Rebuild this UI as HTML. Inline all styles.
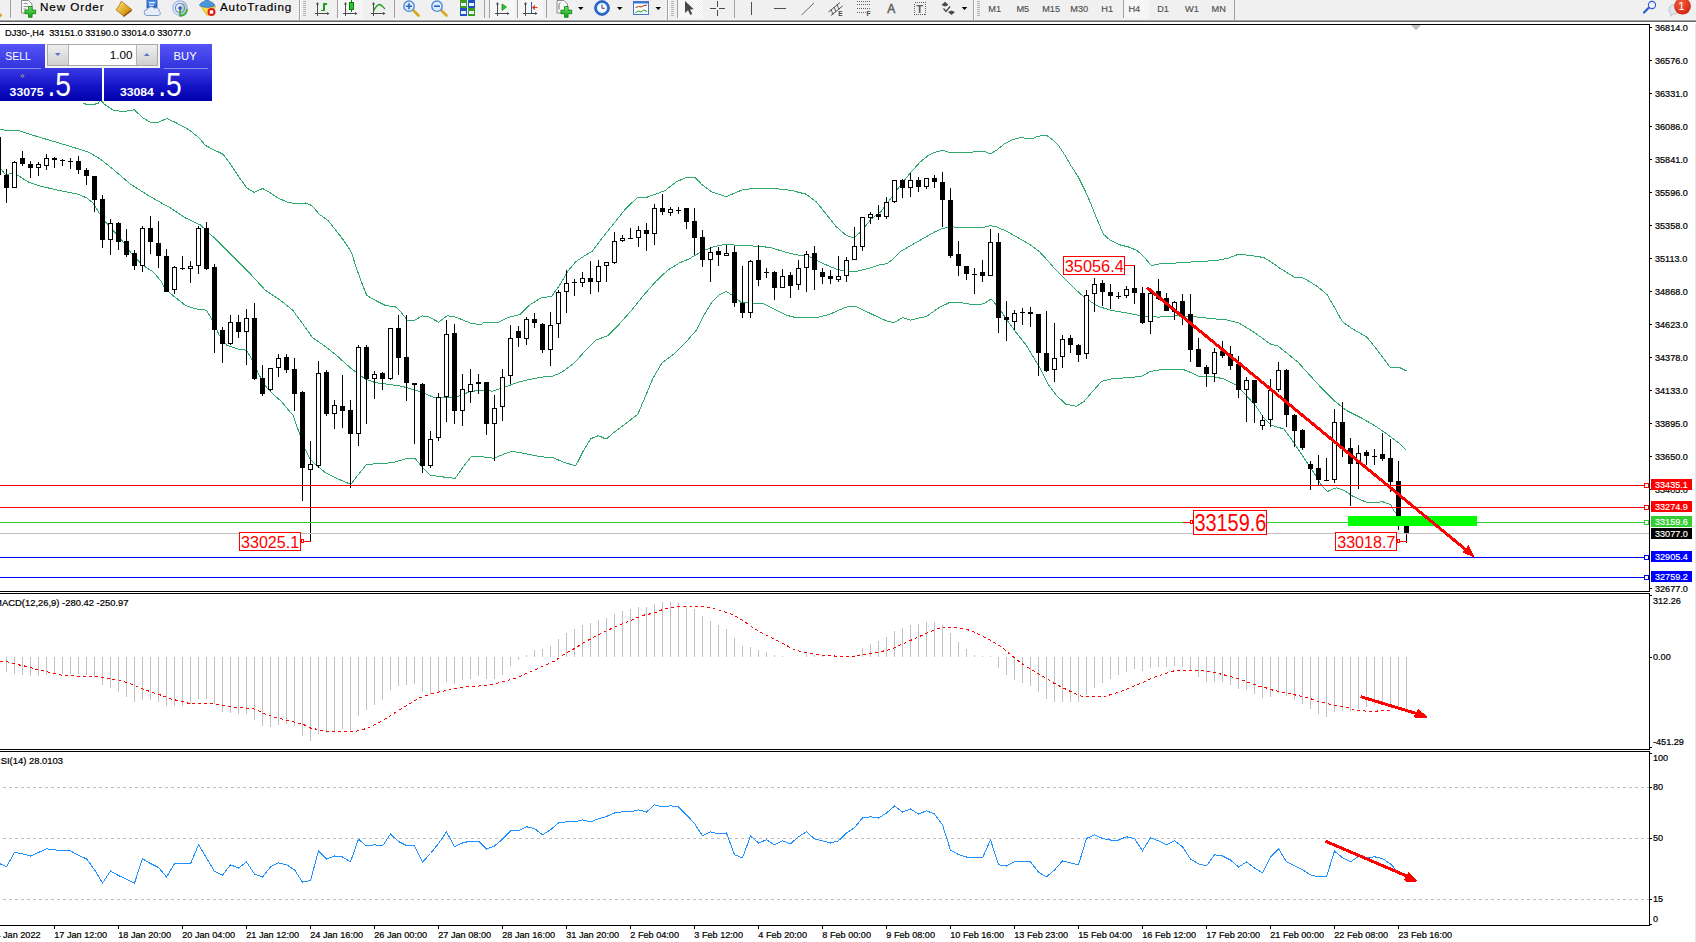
<!DOCTYPE html>
<html lang="en"><head><meta charset="utf-8"><title>DJ30-,H4</title>
<style>
html,body{margin:0;padding:0;background:#fff;}
body{width:1696px;height:942px;overflow:hidden;position:relative;font-family:"Liberation Sans", sans-serif;}
svg{position:absolute;left:0;top:0;display:block}
text{font-family:"Liberation Sans", sans-serif;}
.ax{font-size:9.1px;fill:#000;stroke:#000;stroke-width:.22px}
.tb{font-size:11.7px;fill:#000;stroke:#000;stroke-width:.2px}
.tf{font-size:9.2px;fill:#505050;stroke:#505050;stroke-width:.15px}
</style></head><body>
<svg width="1696" height="942" viewBox="0 0 1696 942">
<rect x="0" y="0" width="1696" height="942" fill="#fff"/>
<g shape-rendering="crispEdges">
<rect x="0" y="24" width="1650" height="1" fill="#000"/>
<rect x="1649" y="24" width="1" height="568" fill="#000"/>
<rect x="0" y="591" width="1650" height="1" fill="#000"/>
<rect x="0" y="593" width="1650" height="1" fill="#000"/>
<rect x="1649" y="593" width="1" height="157" fill="#000"/>
<rect x="0" y="749" width="1650" height="1" fill="#000"/>
<rect x="0" y="751" width="1650" height="1" fill="#000"/>
<rect x="1649" y="751" width="1" height="175" fill="#000"/>
<rect x="0" y="925" width="1650" height="1" fill="#000"/>
<rect x="1695" y="21" width="1" height="921" fill="#e6e6e6"/>
</g>
<polygon points="1411,25 1421,25 1416,30.5" fill="#c0c0c0"/>
<g stroke-linejoin="round">
<polyline points="83.0,103.5 90.5,105.0 98.0,103.5 101.0,100.0 104.2,104.2 113.0,110.0 123.0,111.8 134.2,109.8 143.0,118.0 151.8,123.0 158.0,122.5 166.8,118.5 175.5,122.5 188.0,129.2 198.0,136.8 205.5,145.5 214.2,150.0 223.0,154.2 230.5,164.2 238.0,175.5 246.8,188.0 254.2,192.5 262.5,188.5 270.5,193.0 278.0,198.0 288.0,202.5 295.5,203.5 305.5,203.0 311.8,205.5 319.2,214.2 328.0,220.5 338.0,233.0 345.5,243.0 351.8,253.0 355.5,265.5 361.8,283.0 366.8,295.5 375.5,300.5 385.5,305.5 395.5,306.8 400.5,311.7 406.2,318.7 407.2,320.0 415.1,320.0 422.2,315.9 428.5,316.8 438.7,322.2 447.0,315.9 451.5,316.2 455.9,317.1 469.9,322.9 476.3,324.1 482.0,324.1 483.3,322.9 498.7,322.1 507.7,317.6 519.8,314.6 528.9,305.5 541.0,297.9 551.6,296.4 559.2,285.8 568.2,270.7 575.8,261.6 584.9,255.6 592.4,251.0 601.5,238.9 613.6,223.8 625.7,208.7 637.8,197.2 646.9,197.2 656.0,194.1 665.1,190.5 676.5,181.7 686.5,177.5 695.2,177.5 701.4,184.2 711.4,191.7 726.4,196.7 733.9,193.4 743.8,189.2 758.8,188.7 776.3,188.7 791.2,190.4 806.2,194.2 816.2,201.7 826.2,214.1 836.1,226.6 846.1,235.3 853.6,237.8 861.1,231.6 871.1,219.1 880.5,212.0 888.5,201.7 896.4,190.5 904.4,180.2 912.3,170.7 920.3,161.9 928.3,155.5 934.6,152.3 942.6,150.4 950.6,152.8 963.3,152.3 976.0,151.9 985.6,152.0 990.4,153.9 996.7,150.0 1004.7,143.6 1012.6,139.6 1020.6,137.7 1027.0,138.3 1031.8,138.8 1038.1,136.1 1046.9,135.6 1052.5,139.6 1058.8,146.0 1065.2,155.5 1071.6,166.7 1077.9,176.2 1084.3,189.0 1090.7,203.3 1097.0,219.2 1103.4,234.3 1109.8,239.9 1119.3,244.7 1128.9,247.1 1136.8,250.3 1143.8,256.7 1151.3,265.5 1161.3,263.5 1176.3,263.0 1196.2,261.7 1216.2,260.5 1228.7,258.0 1238.6,254.2 1251.1,255.5 1263.6,257.5 1270.5,261.5 1280.2,268.4 1295.3,277.8 1302.9,277.8 1310.5,282.2 1318.1,287.1 1327.1,294.7 1334.7,307.8 1342.3,321.6 1351.9,328.5 1360.2,333.3 1367.1,337.4 1375.4,347.8 1383.7,358.8 1390.6,367.8 1400.2,367.8 1406.4,371.0" fill="none" stroke="#2fa86c" stroke-width="1" shape-rendering="crispEdges" />
<polyline points="0.5,129.2 8.0,131.0 18.0,130.5 38.0,136.8 63.0,144.2 88.0,151.8 100.5,159.2 113.0,169.2 130.5,184.2 150.5,196.8 170.5,208.0 185.5,218.0 200.5,225.0 213.0,236.7 225.5,249.2 237.9,261.6 250.5,274.1 265.4,290.3 280.3,300.3 292.8,310.3 302.8,324.0 312.7,337.7 325.2,346.4 337.7,356.4 350.2,367.7 360.1,375.1 365.1,378.9 375.1,382.6 390.1,384.6 402.5,386.4 412.5,389.4 420.2,391.6 435.1,397.9 455.1,397.4 470.1,391.6 480.5,390.2 492.6,391.1 504.7,387.2 516.8,382.6 528.9,379.6 541.0,377.2 553.1,376.0 562.2,372.0 574.3,363.0 586.4,349.4 595.5,340.3 607.6,335.7 619.7,323.6 631.8,310.0 643.9,294.9 656.0,281.3 668.1,269.8 680.2,262.5 689.0,259.0 701.4,251.6 713.9,246.6 726.4,244.1 741.4,245.8 758.8,246.1 771.3,247.8 783.8,251.6 796.2,254.8 808.7,256.5 821.2,262.8 836.1,269.0 846.1,271.5 856.1,271.5 871.1,267.8 880.5,264.6 886.9,263.8 893.2,259.0 901.2,251.1 912.3,244.7 923.5,238.3 934.6,231.9 942.6,228.4 952.1,226.9 963.3,227.5 976.0,228.0 984.0,227.2 990.4,225.6 996.7,226.9 1007.9,231.9 1019.0,238.3 1030.2,244.7 1039.7,251.9 1047.7,260.6 1056.1,270.3 1068.6,282.7 1076.5,290.4 1086.5,299.1 1098.9,306.6 1111.4,310.4 1126.4,312.9 1141.4,315.9 1158.8,317.1 1176.3,315.9 1193.7,316.6 1211.2,318.6 1226.2,319.8 1238.6,322.8 1251.1,330.3 1263.6,339.0 1270.5,344.1 1277.4,345.7 1287.1,353.3 1298.1,362.3 1308.9,374.2 1321.4,387.9 1333.9,400.4 1346.3,410.4 1361.3,417.9 1376.3,426.6 1388.7,435.3 1398.7,442.8 1406.2,450.3" fill="none" stroke="#2fa86c" stroke-width="1" shape-rendering="crispEdges" />
<polyline points="0.5,168.0 5.5,175.0 11.8,173.0 18.0,175.5 28.0,181.8 38.0,185.5 50.5,188.5 65.5,191.8 78.0,194.2 86.8,198.0 93.0,203.0 99.2,213.0 105.5,221.8 115.5,233.0 123.0,241.8 133.0,255.5 143.0,265.5 153.0,271.8 160.5,280.5 165.5,289.2 173.0,295.5 185.5,305.5 195.5,308.8 206.7,310.3 213.0,321.5 219.2,335.2 226.7,345.2 237.9,349.0 246.6,350.2 252.9,361.4 259.1,375.1 266.6,387.6 275.3,396.3 280.5,400.5 293.0,415.3 300.5,436.5 305.5,450.3 310.9,460.2 317.9,466.5 325.5,472.7 337.9,478.9 350.8,484.4 357.8,475.2 366.5,464.5 380.3,463.5 392.7,462.7 405.2,459.0 415.2,458.5 422.7,467.7 430.2,475.2 442.6,476.9 455.1,478.4 462.6,467.7 471.3,456.5 480.0,456.5 494.1,458.3 504.7,453.7 512.3,451.3 525.9,453.7 541.0,456.8 553.1,457.7 565.2,462.8 575.8,465.8 583.4,450.7 590.9,438.6 598.5,435.6 606.1,439.2 613.6,432.6 625.7,423.5 637.8,414.4 645.4,396.3 653.0,378.1 662.0,363.0 674.1,353.9 686.5,341.4 696.5,330.1 703.9,315.2 711.4,302.7 718.9,295.2 726.4,291.5 733.9,296.5 741.4,302.7 751.3,303.2 763.8,303.9 776.3,310.2 786.3,315.2 796.2,317.7 816.2,317.7 828.7,314.7 838.6,310.2 848.6,306.4 856.1,306.4 866.1,311.4 876.5,316.4 886.5,320.9 894.0,322.6 902.7,317.6 910.2,320.1 926.4,316.4 938.9,307.7 950.1,302.2 961.3,302.7 973.8,304.7 983.8,303.9 991.2,298.9 998.7,307.7 1006.2,318.9 1016.2,332.6 1026.2,345.1 1033.7,357.6 1041.1,370.0 1048.6,385.0 1056.1,395.0 1065.5,404.0 1076.5,406.4 1084.0,401.4 1091.5,392.7 1101.4,381.5 1111.4,379.0 1126.4,377.7 1141.4,376.5 1150.1,371.5 1161.3,369.7 1183.8,369.7 1191.2,372.7 1198.7,376.5 1211.2,376.0 1223.7,379.0 1236.1,385.2 1246.1,395.2 1256.1,406.4 1263.6,417.6 1271.1,425.1 1284.0,429.1 1291.5,439.1 1298.9,450.3 1306.4,461.5 1313.9,472.7 1321.4,485.2 1327.6,491.4 1336.4,487.7 1343.8,490.2 1352.5,496.0 1365.6,502.0 1372.6,503.0 1382.6,501.7 1390.7,504.5 1393.7,510.5 1396.7,514.0" fill="none" stroke="#2fa86c" stroke-width="1" shape-rendering="crispEdges" />
</g>
<g shape-rendering="crispEdges">
<path d="M6,169h1v34h-1zM14,161h1v27h-1zM22,151h1v15h-1zM30,161h1v17h-1zM38,162h1v14h-1zM46,154h1v16h-1zM54,157h1v11h-1zM62,159h1v7h-1zM70,158h1v11h-1zM78,156h1v18h-1zM86,168h1v17h-1zM94,176h1v36h-1zM102,195h1v53h-1zM110,219h1v36h-1zM118,222h1v28h-1zM126,229h1v28h-1zM134,250h1v20h-1zM142,226h1v46h-1zM150,216h1v38h-1zM158,221h1v47h-1zM166,249h1v43h-1zM174,266h1v28h-1zM182,256h1v14h-1zM190,261h1v22h-1zM198,226h1v48h-1zM206,222h1v48h-1zM214,264h1v89h-1zM222,327h1v36h-1zM230,315h1v30h-1zM238,315h1v23h-1zM246,309h1v56h-1zM254,303h1v77h-1zM262,365h1v31h-1zM270,368h1v23h-1zM278,354h1v23h-1zM286,354h1v19h-1zM294,358h1v53h-1zM302,391h1v110h-1zM310,441h1v101h-1zM318,361h1v107h-1zM326,370h1v46h-1zM334,400h1v29h-1zM342,375h1v53h-1zM350,400h1v88h-1zM358,345h1v101h-1zM366,345h1v79h-1zM374,371h1v28h-1zM382,372h1v18h-1zM390,328h1v52h-1zM398,315h1v60h-1zM406,315h1v86h-1zM414,383h1v61h-1zM422,383h1v90h-1zM430,431h1v37h-1zM438,393h1v48h-1zM446,320h1v102h-1zM454,324h1v100h-1zM462,374h1v52h-1zM470,369h1v34h-1zM478,374h1v20h-1zM486,382h1v53h-1zM494,395h1v66h-1zM502,369h1v52h-1zM510,325h1v59h-1zM518,326h1v21h-1zM526,317h1v28h-1zM534,313h1v15h-1zM542,323h1v30h-1zM550,312h1v54h-1zM558,290h1v48h-1zM566,270h1v43h-1zM574,279h1v17h-1zM582,272h1v15h-1zM590,261h1v33h-1zM598,260h1v32h-1zM606,262h1v20h-1zM614,232h1v32h-1zM622,235h1v7h-1zM630,228h1v11h-1zM638,226h1v21h-1zM646,223h1v28h-1zM654,204h1v41h-1zM662,194h1v21h-1zM670,207h1v9h-1zM678,207h1v7h-1zM686,208h1v21h-1zM694,208h1v47h-1zM702,230h1v37h-1zM710,247h1v35h-1zM718,247h1v19h-1zM726,245h1v11h-1zM734,246h1v61h-1zM742,266h1v52h-1zM750,260h1v58h-1zM758,245h1v41h-1zM766,268h1v10h-1zM774,271h1v29h-1zM782,269h1v19h-1zM790,272h1v26h-1zM798,260h1v30h-1zM806,251h1v41h-1zM814,246h1v44h-1zM822,268h1v16h-1zM830,270h1v14h-1zM838,256h1v26h-1zM846,257h1v25h-1zM854,227h1v33h-1zM862,217h1v34h-1zM870,212h1v12h-1zM878,205h1v15h-1zM886,197h1v22h-1zM894,180h1v23h-1zM902,179h1v19h-1zM910,173h1v24h-1zM918,177h1v15h-1zM926,178h1v11h-1zM934,175h1v13h-1zM942,172h1v55h-1zM950,188h1v70h-1zM958,241h1v35h-1zM966,266h1v14h-1zM974,268h1v26h-1zM982,260h1v22h-1zM990,229h1v47h-1zM998,233h1v100h-1zM1006,301h1v40h-1zM1014,310h1v20h-1zM1022,308h1v17h-1zM1030,307h1v20h-1zM1038,314h1v62h-1zM1046,311h1v61h-1zM1054,323h1v59h-1zM1062,335h1v33h-1zM1070,335h1v18h-1zM1078,344h1v18h-1zM1086,290h1v69h-1zM1094,278h1v34h-1zM1102,280h1v26h-1zM1110,284h1v25h-1zM1118,292h1v7h-1zM1126,286h1v12h-1zM1134,266h1v38h-1zM1142,287h1v37h-1zM1150,289h1v45h-1zM1158,279h1v21h-1zM1166,293h1v18h-1zM1174,301h1v19h-1zM1182,294h1v31h-1zM1190,294h1v68h-1zM1198,338h1v29h-1zM1206,365h1v22h-1zM1214,348h1v34h-1zM1222,341h1v17h-1zM1230,346h1v24h-1zM1238,356h1v42h-1zM1246,377h1v45h-1zM1254,380h1v43h-1zM1262,415h1v15h-1zM1270,379h1v48h-1zM1278,362h1v30h-1zM1286,369h1v58h-1zM1294,414h1v33h-1zM1302,429h1v21h-1zM1310,461h1v29h-1zM1318,455h1v30h-1zM1326,458h1v22h-1zM1334,409h1v74h-1zM1342,402h1v55h-1zM1350,438h1v68h-1zM1358,445h1v44h-1zM1366,450h1v15h-1zM1374,449h1v16h-1zM1382,433h1v28h-1zM1390,439h1v53h-1zM1398,461h1v69h-1zM1406,519h1v24h-1z" fill="#000"/>
<path d="M-4,137h5v38h-5zM4,175h5v13h-5zM12,162h5v26h-5zM20,158h5v6h-5zM28,164h5v4h-5zM36,164h5v4h-5zM44,158h5v8h-5zM52,158h5v2h-5zM60,160h5v1h-5zM68,161h5v1h-5zM76,161h5v9h-5zM84,170h5v6h-5zM92,176h5v24h-5zM100,199h5v41h-5zM108,223h5v17h-5zM116,223h5v19h-5zM124,241h5v14h-5zM132,253h5v13h-5zM140,228h5v38h-5zM148,228h5v14h-5zM156,243h5v13h-5zM164,256h5v36h-5zM172,267h5v23h-5zM180,268h5v1h-5zM188,266h5v3h-5zM196,228h5v38h-5zM204,228h5v41h-5zM212,267h5v63h-5zM220,330h5v14h-5zM228,322h5v22h-5zM236,322h5v10h-5zM244,318h5v14h-5zM252,318h5v61h-5zM260,378h5v16h-5zM268,368h5v22h-5zM276,358h5v10h-5zM284,357h5v13h-5zM292,369h5v25h-5zM300,392h5v76h-5zM308,464h5v6h-5zM316,373h5v93h-5zM324,372h5v42h-5zM332,405h5v9h-5zM340,406h5v5h-5zM348,410h5v24h-5zM356,347h5v87h-5zM364,347h5v32h-5zM372,374h5v5h-5zM380,373h5v6h-5zM388,328h5v51h-5zM396,328h5v30h-5zM404,357h5v26h-5zM412,383h5v2h-5zM420,384h5v82h-5zM428,439h5v27h-5zM436,397h5v41h-5zM444,334h5v63h-5zM452,333h5v78h-5zM460,389h5v22h-5zM468,384h5v8h-5zM476,382h5v2h-5zM484,382h5v42h-5zM492,408h5v16h-5zM500,377h5v30h-5zM508,338h5v38h-5zM516,331h5v7h-5zM524,319h5v20h-5zM532,319h5v4h-5zM540,324h5v26h-5zM548,325h5v25h-5zM556,292h5v32h-5zM564,283h5v9h-5zM572,282h5v1h-5zM580,278h5v5h-5zM588,278h5v4h-5zM596,266h5v16h-5zM604,262h5v4h-5zM612,241h5v22h-5zM620,238h5v3h-5zM628,238h5v1h-5zM636,230h5v8h-5zM644,230h5v4h-5zM652,208h5v26h-5zM660,208h5v4h-5zM668,209h5v4h-5zM676,210h5v1h-5zM684,208h5v14h-5zM692,221h5v17h-5zM700,237h5v23h-5zM708,252h5v8h-5zM716,251h5v4h-5zM724,253h5v3h-5zM732,252h5v51h-5zM740,303h5v10h-5zM748,261h5v52h-5zM756,260h5v20h-5zM764,272h5v1h-5zM772,272h5v16h-5zM780,276h5v12h-5zM788,275h5v11h-5zM796,268h5v17h-5zM804,254h5v14h-5zM812,253h5v17h-5zM820,272h5v5h-5zM828,276h5v3h-5zM836,276h5v4h-5zM844,260h5v16h-5zM852,246h5v14h-5zM860,217h5v30h-5zM868,214h5v4h-5zM876,214h5v3h-5zM884,202h5v15h-5zM892,180h5v22h-5zM900,180h5v8h-5zM908,180h5v8h-5zM916,180h5v7h-5zM924,178h5v9h-5zM932,178h5v4h-5zM940,182h5v18h-5zM948,200h5v56h-5zM956,254h5v12h-5zM964,266h5v8h-5zM972,274h5v1h-5zM980,272h5v4h-5zM988,242h5v34h-5zM996,242h5v76h-5zM1004,317h5v3h-5zM1012,313h5v9h-5zM1020,312h5v1h-5zM1028,312h5v2h-5zM1036,314h5v39h-5zM1044,353h5v18h-5zM1052,358h5v12h-5zM1060,339h5v18h-5zM1068,338h5v7h-5zM1076,345h5v10h-5zM1084,295h5v59h-5zM1092,284h5v10h-5zM1100,283h5v9h-5zM1108,292h5v4h-5zM1116,296h5v1h-5zM1124,289h5v7h-5zM1132,288h5v5h-5zM1140,293h5v30h-5zM1148,293h5v29h-5zM1156,291h5v8h-5zM1164,298h5v13h-5zM1172,302h5v10h-5zM1180,301h5v15h-5zM1188,314h5v36h-5zM1196,349h5v18h-5zM1204,367h5v7h-5zM1212,352h5v22h-5zM1220,351h5v5h-5zM1228,354h5v12h-5zM1236,364h5v26h-5zM1244,380h5v10h-5zM1252,380h5v23h-5zM1260,420h5v6h-5zM1268,390h5v30h-5zM1276,370h5v20h-5zM1284,370h5v45h-5zM1292,415h5v16h-5zM1300,430h5v18h-5zM1308,464h5v5h-5zM1316,468h5v12h-5zM1324,480h5v1h-5zM1332,422h5v58h-5zM1340,422h5v26h-5zM1348,448h5v16h-5zM1356,453h5v11h-5zM1364,452h5v4h-5zM1372,456h5v1h-5zM1380,454h5v5h-5zM1388,458h5v24h-5zM1396,481h5v45h-5zM1404,525h5v9h-5z" fill="#000"/>
<path d="M13,163h3v24h-3zM37,165h3v2h-3zM45,159h3v6h-3zM109,224h3v15h-3zM141,229h3v36h-3zM173,268h3v21h-3zM189,267h3v1h-3zM197,229h3v36h-3zM229,323h3v20h-3zM245,319h3v12h-3zM269,369h3v20h-3zM277,359h3v8h-3zM309,465h3v4h-3zM317,374h3v91h-3zM333,406h3v7h-3zM357,348h3v85h-3zM373,375h3v3h-3zM389,329h3v49h-3zM429,440h3v25h-3zM437,398h3v39h-3zM445,335h3v61h-3zM461,390h3v20h-3zM469,385h3v6h-3zM493,409h3v14h-3zM501,378h3v28h-3zM509,339h3v36h-3zM525,320h3v18h-3zM549,326h3v23h-3zM557,293h3v30h-3zM565,284h3v7h-3zM581,279h3v3h-3zM597,267h3v14h-3zM605,263h3v2h-3zM613,242h3v20h-3zM621,239h3v1h-3zM637,231h3v6h-3zM653,209h3v24h-3zM669,210h3v2h-3zM709,253h3v6h-3zM725,254h3v1h-3zM749,262h3v50h-3zM781,277h3v10h-3zM797,269h3v15h-3zM805,255h3v12h-3zM837,277h3v2h-3zM845,261h3v14h-3zM853,247h3v12h-3zM861,218h3v28h-3zM869,215h3v2h-3zM885,203h3v13h-3zM893,181h3v20h-3zM909,181h3v6h-3zM925,179h3v7h-3zM989,243h3v32h-3zM1013,314h3v7h-3zM1053,359h3v10h-3zM1061,340h3v16h-3zM1085,296h3v57h-3zM1093,285h3v8h-3zM1125,290h3v5h-3zM1149,294h3v27h-3zM1173,303h3v8h-3zM1213,353h3v20h-3zM1245,381h3v8h-3zM1261,421h3v4h-3zM1269,391h3v28h-3zM1277,371h3v18h-3zM1333,423h3v56h-3zM1357,454h3v9h-3z" fill="#fff"/>
</g>
<g shape-rendering="crispEdges">
<rect x="0" y="485" width="1649" height="1" fill="#ff0000"/>
<rect x="0" y="507" width="1649" height="1" fill="#ff0000"/>
<rect x="0" y="522" width="1649" height="1" fill="#32cd32"/>
<rect x="0" y="533" width="1649" height="1" fill="#c0c0c0"/>
<rect x="0" y="557" width="1649" height="1" fill="#0000ff"/>
<rect x="0" y="577" width="1649" height="1" fill="#0000ff"/>
<rect x="1644.5" y="483.5" width="4" height="4" fill="#fff" stroke="#ff0000" stroke-width="1"/>
<rect x="1644.5" y="505.5" width="4" height="4" fill="#fff" stroke="#ff0000" stroke-width="1"/>
<rect x="1644.5" y="520.5" width="4" height="4" fill="#fff" stroke="#32cd32" stroke-width="1"/>
<rect x="1644.5" y="555.5" width="4" height="4" fill="#fff" stroke="#0000ff" stroke-width="1"/>
<rect x="1644.5" y="575.5" width="4" height="4" fill="#fff" stroke="#0000ff" stroke-width="1"/>
<rect x="1348" y="516" width="129" height="10" fill="#00ff00"/>
</g>
<g shape-rendering="crispEdges"><line x1="1147" y1="287.5" x2="1468" y2="551.5" stroke="#ff0000" stroke-width="3"/>
<polygon points="1474.5,557.5 1462.6,552.6 1468.6,544.8" fill="#ff0000"/></g>
<rect x="239.5" y="532.5" width="61" height="18" fill="#fff" stroke="#ff0000" stroke-width="1" shape-rendering="crispEdges"/>
<text x="241.0" y="547.7" font-size="16" fill="#ff0000" textLength="58.2" lengthAdjust="spacingAndGlyphs">33025.1</text>
<g shape-rendering="crispEdges"><rect x="301.5" y="539.5" width="2" height="3" fill="#fff" stroke="#ff0000"/><rect x="304" y="541" width="7" height="1" fill="#ff0000"/></g>
<rect x="1063.5" y="256.5" width="61" height="18" fill="#fff" stroke="#ff0000" stroke-width="1" shape-rendering="crispEdges"/>
<text x="1064.8" y="271.9" font-size="16" fill="#ff0000" textLength="59" lengthAdjust="spacingAndGlyphs">35056.4</text>
<g shape-rendering="crispEdges"><rect x="1125" y="265" width="10" height="1" fill="#ff0000"/></g>
<rect x="1335.5" y="532.5" width="61" height="18" fill="#fff" stroke="#ff0000" stroke-width="1" shape-rendering="crispEdges"/>
<text x="1337.2" y="547.6" font-size="16" fill="#ff0000" textLength="58.2" lengthAdjust="spacingAndGlyphs">33018.7</text>
<g shape-rendering="crispEdges"><rect x="1397.5" y="539.5" width="2" height="3" fill="#fff" stroke="#ff0000"/><rect x="1400" y="541" width="7" height="1" fill="#ff0000"/></g>
<g shape-rendering="crispEdges"><rect x="1183" y="522" width="7" height="1" fill="#ff0000"/><rect x="1190.5" y="520.5" width="2" height="3" fill="#fff" stroke="#ff0000"/></g>
<rect x="1193.5" y="510.5" width="73" height="24" fill="#fff" stroke="#ff0000" stroke-width="1" shape-rendering="crispEdges"/>
<text x="1194.4" y="531.2" font-size="23" fill="#ff0000" textLength="72" lengthAdjust="spacingAndGlyphs">33159.6</text>
<g shape-rendering="crispEdges">
<rect x="1650" y="27" width="2" height="1" fill="#000"/>
<rect x="1650" y="60" width="2" height="1" fill="#000"/>
<rect x="1650" y="93" width="2" height="1" fill="#000"/>
<rect x="1650" y="126" width="2" height="1" fill="#000"/>
<rect x="1650" y="159" width="2" height="1" fill="#000"/>
<rect x="1650" y="192" width="2" height="1" fill="#000"/>
<rect x="1650" y="225" width="2" height="1" fill="#000"/>
<rect x="1650" y="258" width="2" height="1" fill="#000"/>
<rect x="1650" y="291" width="2" height="1" fill="#000"/>
<rect x="1650" y="324" width="2" height="1" fill="#000"/>
<rect x="1650" y="357" width="2" height="1" fill="#000"/>
<rect x="1650" y="390" width="2" height="1" fill="#000"/>
<rect x="1650" y="423" width="2" height="1" fill="#000"/>
<rect x="1650" y="456" width="2" height="1" fill="#000"/>
<rect x="1650" y="489" width="2" height="1" fill="#000"/>
<rect x="1650" y="588" width="2" height="1" fill="#000"/>
</g>
<text class="ax" x="1655" y="30.9">36814.0</text>
<text class="ax" x="1655" y="63.9">36576.0</text>
<text class="ax" x="1655" y="96.9">36331.0</text>
<text class="ax" x="1655" y="129.9">36086.0</text>
<text class="ax" x="1655" y="162.9">35841.0</text>
<text class="ax" x="1655" y="195.9">35596.0</text>
<text class="ax" x="1655" y="228.9">35358.0</text>
<text class="ax" x="1655" y="261.9">35113.0</text>
<text class="ax" x="1655" y="294.9">34868.0</text>
<text class="ax" x="1655" y="327.9">34623.0</text>
<text class="ax" x="1655" y="360.9">34378.0</text>
<text class="ax" x="1655" y="393.9">34133.0</text>
<text class="ax" x="1655" y="426.9">33895.0</text>
<text class="ax" x="1655" y="459.9">33650.0</text>
<text class="ax" x="1655" y="492.9">33405.0</text>
<text class="ax" x="1655" y="591.9">32677.0</text>
<rect x="1651" y="479" width="41" height="11" fill="#ff0000" shape-rendering="crispEdges"/>
<text class="ax" x="1655" y="488.4" style="fill:#fff;stroke:#fff;stroke-width:.15px">33435.1</text>
<rect x="1651" y="501" width="41" height="11" fill="#ff0000" shape-rendering="crispEdges"/>
<text class="ax" x="1655" y="510.4" style="fill:#fff;stroke:#fff;stroke-width:.15px">33274.9</text>
<rect x="1651" y="516" width="41" height="11" fill="#32cd32" shape-rendering="crispEdges"/>
<text class="ax" x="1655" y="525.4" style="fill:#fff;stroke:#fff;stroke-width:.15px">33159.6</text>
<rect x="1651" y="528" width="41" height="11" fill="#000000" shape-rendering="crispEdges"/>
<text class="ax" x="1655" y="537.4" style="fill:#fff;stroke:#fff;stroke-width:.15px">33077.0</text>
<rect x="1651" y="551" width="41" height="11" fill="#0000ff" shape-rendering="crispEdges"/>
<text class="ax" x="1655" y="560.4" style="fill:#fff;stroke:#fff;stroke-width:.15px">32905.4</text>
<rect x="1651" y="571" width="41" height="11" fill="#0000ff" shape-rendering="crispEdges"/>
<text class="ax" x="1655" y="580.4" style="fill:#fff;stroke:#fff;stroke-width:.15px">32759.2</text>
<path d="M6,657h1v15h-1zM14,657h1v17h-1zM22,657h1v18h-1zM30,657h1v19h-1zM38,657h1v19h-1zM46,657h1v18h-1zM54,657h1v17h-1zM62,657h1v17h-1zM70,657h1v17h-1zM78,657h1v17h-1zM86,657h1v18h-1zM94,657h1v21h-1zM102,657h1v28h-1zM110,657h1v31h-1zM118,657h1v35h-1zM126,657h1v40h-1zM134,657h1v45h-1zM142,657h1v43h-1zM150,657h1v43h-1zM158,657h1v45h-1zM166,657h1v49h-1zM174,657h1v49h-1zM182,657h1v49h-1zM190,657h1v47h-1zM198,657h1v42h-1zM206,657h1v42h-1zM214,657h1v47h-1zM222,657h1v55h-1zM230,657h1v56h-1zM238,657h1v57h-1zM246,657h1v57h-1zM254,657h1v63h-1zM262,657h1v69h-1zM270,657h1v70h-1zM278,657h1v68h-1zM286,657h1v67h-1zM294,657h1v69h-1zM302,657h1v79h-1zM310,657h1v84h-1zM318,657h1v77h-1zM326,657h1v76h-1zM334,657h1v74h-1zM342,657h1v72h-1zM350,657h1v73h-1zM358,657h1v59h-1zM366,657h1v53h-1zM374,657h1v48h-1zM382,657h1v43h-1zM390,657h1v33h-1zM398,657h1v29h-1zM406,657h1v28h-1zM414,657h1v27h-1zM422,657h1v35h-1zM430,657h1v37h-1zM438,657h1v35h-1zM446,657h1v25h-1zM454,657h1v27h-1zM462,657h1v23h-1zM470,657h1v22h-1zM478,657h1v19h-1zM486,657h1v22h-1zM494,657h1v22h-1zM502,657h1v18h-1zM510,657h1v9h-1zM518,657h1v3h-1zM526,655h1v2h-1zM534,650h1v7h-1zM542,649h1v8h-1zM550,646h1v11h-1zM558,639h1v18h-1zM566,633h1v24h-1zM574,629h1v28h-1zM582,625h1v32h-1zM590,623h1v34h-1zM598,620h1v37h-1zM606,618h1v39h-1zM614,614h1v43h-1zM622,611h1v46h-1zM630,609h1v48h-1zM638,607h1v50h-1zM646,607h1v50h-1zM654,604h1v53h-1zM662,602h1v55h-1zM670,602h1v55h-1zM678,603h1v54h-1zM686,606h1v51h-1zM694,609h1v48h-1zM702,616h1v41h-1zM710,621h1v36h-1zM718,625h1v32h-1zM726,629h1v28h-1zM734,638h1v19h-1zM742,646h1v11h-1zM750,647h1v10h-1zM758,650h1v7h-1zM766,652h1v5h-1zM774,655h1v2h-1zM782,656h1v1h-1zM806,654h1v3h-1zM814,655h1v2h-1zM822,656h1v1h-1zM846,656h1v1h-1zM854,655h1v2h-1zM862,648h1v9h-1zM870,644h1v13h-1zM878,641h1v16h-1zM886,637h1v20h-1zM894,631h1v26h-1zM902,628h1v29h-1zM910,625h1v32h-1zM918,624h1v33h-1zM926,622h1v35h-1zM934,622h1v35h-1zM942,625h1v32h-1zM950,633h1v24h-1zM958,642h1v15h-1zM966,649h1v8h-1zM974,655h1v2h-1zM982,656h1v1h-1zM990,656h1v1h-1zM998,657h1v11h-1zM1006,657h1v18h-1zM1014,657h1v23h-1zM1022,657h1v26h-1zM1030,657h1v29h-1zM1038,657h1v35h-1zM1046,657h1v42h-1zM1054,657h1v45h-1zM1062,657h1v45h-1zM1070,657h1v45h-1zM1078,657h1v45h-1zM1086,657h1v38h-1zM1094,657h1v31h-1zM1102,657h1v26h-1zM1110,657h1v22h-1zM1118,657h1v18h-1zM1126,657h1v15h-1zM1134,657h1v12h-1zM1142,657h1v14h-1zM1150,657h1v11h-1zM1158,657h1v10h-1zM1166,657h1v10h-1zM1174,657h1v9h-1zM1182,657h1v10h-1zM1190,657h1v14h-1zM1198,657h1v20h-1zM1206,657h1v25h-1zM1214,657h1v25h-1zM1222,657h1v25h-1zM1230,657h1v28h-1zM1238,657h1v32h-1zM1246,657h1v33h-1zM1254,657h1v37h-1zM1262,657h1v41h-1zM1270,657h1v40h-1zM1278,657h1v36h-1zM1286,657h1v39h-1zM1294,657h1v43h-1zM1302,657h1v47h-1zM1310,657h1v52h-1zM1318,657h1v57h-1zM1326,657h1v60h-1zM1334,657h1v55h-1zM1342,657h1v54h-1zM1350,657h1v54h-1zM1358,657h1v52h-1zM1366,657h1v50h-1zM1374,657h1v48h-1zM1382,657h1v47h-1zM1390,657h1v49h-1zM1398,657h1v53h-1zM1406,657h1v56h-1z" fill="#c0c0c0" shape-rendering="crispEdges"/>
<polyline points="0.5,661.2 7.0,661.8 15.5,664.2 25.5,666.2 38.0,669.8 50.5,672.5 63.0,675.5 75.5,676.0 95.5,676.0 105.5,678.0 118.0,679.8 130.5,683.8 140.5,688.0 150.5,691.8 160.5,695.0 170.5,698.8 180.5,701.2 190.5,703.8 215.5,703.8 225.5,706.0 238.0,707.5 255.5,709.2 265.5,714.2 275.5,717.5 288.0,720.5 303.0,724.2 310.5,728.0 325.5,731.0 338.0,731.8 350.5,731.8 360.5,730.5 370.5,726.8 380.5,721.8 390.5,715.5 400.5,709.2 410.5,703.5 418.0,698.5 424.5,696.0 432.0,693.8 439.5,691.8 447.0,690.5 454.5,688.5 467.0,686.8 479.5,686.0 492.0,684.8 504.5,681.0 517.0,678.0 527.0,673.0 534.5,670.0 544.5,665.5 554.5,661.0 564.5,654.2 574.5,648.5 584.5,642.2 594.5,636.8 604.5,631.8 614.5,627.2 624.5,623.0 634.5,618.8 644.5,615.0 654.5,613.0 662.0,609.8 669.5,607.5 679.5,606.8 689.5,606.0 702.0,606.0 712.0,608.0 722.0,611.0 732.0,614.2 742.0,620.0 752.0,626.8 762.0,633.0 772.0,638.0 782.0,643.0 792.0,648.5 802.0,652.2 814.5,653.8 824.5,655.5 834.5,656.0 844.5,656.0 848.5,656.8 858.5,655.5 868.5,653.8 878.5,652.2 891.0,649.2 903.5,643.5 916.0,638.0 926.0,633.5 936.0,629.2 948.5,627.2 958.5,628.0 971.0,630.5 981.0,635.5 991.0,640.5 1001.0,646.8 1011.0,655.0 1023.5,664.8 1033.5,670.5 1043.5,676.8 1053.5,683.0 1063.5,688.0 1073.5,693.0 1081.0,696.0 1093.5,696.8 1103.5,696.8 1113.5,693.8 1123.5,690.5 1133.5,686.2 1143.5,682.2 1153.5,677.5 1163.5,674.2 1173.5,671.0 1186.0,670.0 1198.5,670.0 1208.5,671.2 1218.5,673.5 1228.5,676.0 1238.5,678.8 1248.5,682.5 1258.5,686.0 1268.5,688.5 1272.5,690.0 1280.0,691.8 1287.5,693.0 1297.5,695.5 1307.5,697.5 1317.5,701.2 1327.5,703.5 1337.5,706.2 1347.5,707.2 1355.0,710.0 1365.0,711.0 1377.5,711.0 1386.2,710.8 1391.5,710.0" fill="none" stroke="#ff0000" stroke-width="1" shape-rendering="crispEdges" stroke-dasharray="3 3"/>
<g shape-rendering="crispEdges"><line x1="1360.5" y1="696.6" x2="1418" y2="714" stroke="#ff0000" stroke-width="3"/>
<polygon points="1427.6,716.8 1418,709 1413.8,716.6 1415,718 1426,718" fill="#ff0000"/></g>
<g shape-rendering="crispEdges"><rect x="1650" y="595" width="2" height="1" fill="#000"/><rect x="1650" y="657" width="2" height="1" fill="#000"/><rect x="1650" y="747" width="2" height="1" fill="#000"/></g>
<text class="ax" x="1653" y="603.5">312.26</text>
<text class="ax" x="1653" y="660.2">0.00</text>
<text class="ax" x="1653" y="745.1">-451.29</text>
<text class="ax" x="-5.9" y="605.6" style="font-size:9.42px">MACD(12,26,9) -280.42 -250.97</text>
<g shape-rendering="crispEdges" stroke="#c0c0c0" stroke-width="1" stroke-dasharray="3 3">
<line x1="3" y1="787.5" x2="1649" y2="787.5"/>
<line x1="3" y1="838.5" x2="1649" y2="838.5"/>
<line x1="3" y1="899.5" x2="1649" y2="899.5"/>
</g>
<polyline points="-1.5,863.0 6.5,866.8 14.5,852.5 22.5,853.8 30.5,856.0 38.5,852.5 46.5,848.8 54.5,849.8 62.5,850.8 70.5,850.8 78.5,855.5 86.5,858.8 94.5,869.8 102.5,883.0 110.5,871.0 118.5,875.5 126.5,879.2 134.5,883.0 142.5,858.8 150.5,863.5 158.5,867.5 166.5,877.0 174.5,863.8 182.5,863.8 190.5,863.8 198.5,844.8 206.5,857.8 214.5,871.5 222.5,875.0 230.5,864.8 238.5,868.0 246.5,862.0 254.5,874.0 262.5,877.0 270.5,866.8 278.5,862.8 286.5,864.8 294.5,869.8 302.5,882.2 310.5,880.5 318.5,850.8 326.5,859.0 334.5,856.0 342.5,857.0 350.5,861.8 358.5,839.2 366.5,846.0 374.5,844.8 382.5,846.0 390.5,834.0 398.5,841.5 406.5,845.5 414.5,846.0 422.5,862.2 430.5,853.5 438.5,843.5 446.5,831.8 454.5,846.8 462.5,843.0 470.5,841.0 478.5,841.0 486.5,849.0 494.5,846.0 502.5,839.2 510.5,830.8 518.5,830.8 526.5,826.8 534.5,828.5 542.5,834.8 550.5,829.8 558.5,823.0 566.5,821.8 574.5,821.8 582.5,819.8 590.5,821.8 598.5,818.8 606.5,816.5 614.5,813.0 622.5,811.8 630.5,811.8 638.5,809.8 646.5,812.0 654.5,804.8 662.5,807.0 670.5,805.8 678.5,807.0 686.5,814.8 694.5,823.5 702.5,835.8 710.5,831.8 718.5,833.8 726.5,833.0 734.5,854.8 742.5,857.8 750.5,836.0 758.5,843.0 766.5,839.8 774.5,844.8 782.5,840.8 790.5,843.8 798.5,836.8 806.5,831.8 814.5,838.8 822.5,840.8 830.5,843.0 838.5,840.8 846.5,833.0 854.5,827.8 862.5,817.8 870.5,816.8 878.5,818.0 886.5,813.0 894.5,806.0 902.5,812.0 910.5,809.0 918.5,814.0 926.5,810.8 934.5,814.0 942.5,824.8 950.5,850.2 958.5,854.5 966.5,857.0 974.5,857.0 982.5,858.0 990.5,839.8 998.5,864.8 1006.5,866.0 1014.5,861.8 1022.5,861.8 1030.5,861.8 1038.5,872.2 1046.5,876.8 1054.5,870.0 1062.5,861.0 1070.5,862.8 1078.5,864.8 1086.5,838.5 1094.5,834.8 1102.5,838.5 1110.5,840.0 1118.5,840.0 1126.5,836.8 1134.5,838.5 1142.5,850.8 1150.5,837.8 1158.5,840.8 1166.5,844.8 1174.5,840.8 1182.5,846.8 1190.5,859.0 1198.5,863.8 1206.5,865.8 1214.5,854.8 1222.5,856.0 1230.5,860.0 1238.5,867.0 1246.5,862.0 1254.5,868.0 1262.5,872.8 1270.5,857.0 1278.5,848.8 1286.5,861.8 1294.5,865.8 1302.5,869.8 1310.5,874.8 1318.5,876.8 1326.5,876.8 1334.5,851.0 1342.5,857.8 1350.5,861.8 1358.5,856.5 1366.5,858.0 1374.5,856.8 1382.5,858.5 1390.5,864.0 1398.5,872.5 1406.5,875.8" fill="none" stroke="#1e90ff" stroke-width="1" shape-rendering="crispEdges" />
<g shape-rendering="crispEdges"><line x1="1325.5" y1="841.2" x2="1408" y2="876.6" stroke="#ff0000" stroke-width="3"/>
<polygon points="1417.4,880.6 1408.6,871.8 1403.8,879.8 1406,882 1416,882" fill="#ff0000"/></g>
<g shape-rendering="crispEdges">
<rect x="1650" y="753" width="2" height="1" fill="#000"/>
<rect x="1650" y="787" width="2" height="1" fill="#000"/>
<rect x="1650" y="838" width="2" height="1" fill="#000"/>
<rect x="1650" y="899" width="2" height="1" fill="#000"/>
<rect x="1650" y="924" width="2" height="1" fill="#000"/>
</g>
<text class="ax" x="1653" y="761.4">100</text>
<text class="ax" x="1653" y="790.4">80</text>
<text class="ax" x="1653" y="841.4">50</text>
<text class="ax" x="1653" y="902.4">15</text>
<text class="ax" x="1653" y="921.5">0</text>
<text class="ax" x="-6.2" y="763.8" style="font-size:9.45px">RSI(14) 28.0103</text>
<g shape-rendering="crispEdges">
<rect x="-10" y="926" width="1" height="3" fill="#000"/>
<rect x="54" y="926" width="1" height="3" fill="#000"/>
<rect x="118" y="926" width="1" height="3" fill="#000"/>
<rect x="182" y="926" width="1" height="3" fill="#000"/>
<rect x="246" y="926" width="1" height="3" fill="#000"/>
<rect x="310" y="926" width="1" height="3" fill="#000"/>
<rect x="374" y="926" width="1" height="3" fill="#000"/>
<rect x="438" y="926" width="1" height="3" fill="#000"/>
<rect x="502" y="926" width="1" height="3" fill="#000"/>
<rect x="566" y="926" width="1" height="3" fill="#000"/>
<rect x="630" y="926" width="1" height="3" fill="#000"/>
<rect x="694" y="926" width="1" height="3" fill="#000"/>
<rect x="758" y="926" width="1" height="3" fill="#000"/>
<rect x="822" y="926" width="1" height="3" fill="#000"/>
<rect x="886" y="926" width="1" height="3" fill="#000"/>
<rect x="950" y="926" width="1" height="3" fill="#000"/>
<rect x="1014" y="926" width="1" height="3" fill="#000"/>
<rect x="1078" y="926" width="1" height="3" fill="#000"/>
<rect x="1142" y="926" width="1" height="3" fill="#000"/>
<rect x="1206" y="926" width="1" height="3" fill="#000"/>
<rect x="1270" y="926" width="1" height="3" fill="#000"/>
<rect x="1334" y="926" width="1" height="3" fill="#000"/>
<rect x="1398" y="926" width="1" height="3" fill="#000"/>
</g>
<text class="ax" x="-9.7" y="938.2" style="font-size:9.15px">14 Jan 2022</text>
<text class="ax" x="54.3" y="938.2" style="font-size:9.15px">17 Jan 12:00</text>
<text class="ax" x="118.3" y="938.2" style="font-size:9.15px">18 Jan 20:00</text>
<text class="ax" x="182.3" y="938.2" style="font-size:9.15px">20 Jan 04:00</text>
<text class="ax" x="246.3" y="938.2" style="font-size:9.15px">21 Jan 12:00</text>
<text class="ax" x="310.3" y="938.2" style="font-size:9.15px">24 Jan 16:00</text>
<text class="ax" x="374.3" y="938.2" style="font-size:9.15px">26 Jan 00:00</text>
<text class="ax" x="438.3" y="938.2" style="font-size:9.15px">27 Jan 08:00</text>
<text class="ax" x="502.3" y="938.2" style="font-size:9.15px">28 Jan 16:00</text>
<text class="ax" x="566.3" y="938.2" style="font-size:9.15px">31 Jan 20:00</text>
<text class="ax" x="630.3" y="938.2" style="font-size:9.15px">2 Feb 04:00</text>
<text class="ax" x="694.3" y="938.2" style="font-size:9.15px">3 Feb 12:00</text>
<text class="ax" x="758.3" y="938.2" style="font-size:9.15px">4 Feb 20:00</text>
<text class="ax" x="822.3" y="938.2" style="font-size:9.15px">8 Feb 00:00</text>
<text class="ax" x="886.3" y="938.2" style="font-size:9.15px">9 Feb 08:00</text>
<text class="ax" x="950.3" y="938.2" style="font-size:9.15px">10 Feb 16:00</text>
<text class="ax" x="1014.3" y="938.2" style="font-size:9.15px">13 Feb 23:00</text>
<text class="ax" x="1078.3" y="938.2" style="font-size:9.15px">15 Feb 04:00</text>
<text class="ax" x="1142.3" y="938.2" style="font-size:9.15px">16 Feb 12:00</text>
<text class="ax" x="1206.3" y="938.2" style="font-size:9.15px">17 Feb 20:00</text>
<text class="ax" x="1270.3" y="938.2" style="font-size:9.15px">21 Feb 00:00</text>
<text class="ax" x="1334.3" y="938.2" style="font-size:9.15px">22 Feb 08:00</text>
<text class="ax" x="1398.3" y="938.2" style="font-size:9.15px">23 Feb 16:00</text>
<text x="5" y="35.8" font-size="9.25" fill="#000" stroke="#000" stroke-width=".2" xml:space="preserve">DJ30-,H4  33151.0 33190.0 33014.0 33077.0</text>
<defs>
<linearGradient id="gs" x1="0" y1="0" x2="0" y2="1"><stop offset="0" stop-color="#5555f5"/><stop offset="1" stop-color="#3232de"/></linearGradient>
<linearGradient id="gb" x1="0" y1="0" x2="0" y2="1"><stop offset="0" stop-color="#3a3ae4"/><stop offset=".55" stop-color="#1414c8"/><stop offset="1" stop-color="#0000aa"/></linearGradient>
<linearGradient id="gg" x1="0" y1="0" x2="0" y2="1"><stop offset="0" stop-color="#efefef"/><stop offset="1" stop-color="#cfcfcf"/></linearGradient>
</defs>
<g shape-rendering="crispEdges">
<rect x="0" y="44" width="45" height="25" fill="url(#gs)"/>
<rect x="160" y="44" width="52" height="25" fill="url(#gs)"/>
<rect x="0" y="68" width="102" height="33" fill="url(#gb)"/>
<rect x="104" y="68" width="108" height="33" fill="url(#gb)"/>
<rect x="0" y="68" width="41" height="1" fill="#8c8cf0"/>
<rect x="164" y="68" width="44" height="1" fill="#8c8cf0"/>
<rect x="45" y="44" width="115" height="24" fill="#f4f4f4"/>
<rect x="47.5" y="44.5" width="110" height="21" fill="#fff" stroke="#a8a8a8"/>
<rect x="48" y="45" width="20" height="20" fill="url(#gg)"/>
<rect x="137" y="45" width="20" height="20" fill="url(#gg)"/>
<rect x="68" y="45" width="1" height="20" fill="#b4b4b4"/>
<rect x="136" y="45" width="1" height="20" fill="#b4b4b4"/>
</g>
<polygon points="55,53 60.5,53 57.75,56" fill="#5a6ec8"/>
<polygon points="144,56 149.5,56 146.75,53" fill="#5a6ec8"/>
<text x="5.2" y="59.6" font-size="11" fill="#fff" textLength="25.6" lengthAdjust="spacingAndGlyphs">SELL</text>
<text x="173.6" y="59.6" font-size="11" fill="#fff" textLength="23" lengthAdjust="spacingAndGlyphs">BUY</text>
<text x="132.4" y="58.5" font-size="11.7" fill="#000" text-anchor="end">1.00</text>
<text x="9.6" y="95.6" font-size="11.6" font-weight="bold" fill="#fff" textLength="34" lengthAdjust="spacingAndGlyphs">33075</text>
<text x="47.5" y="95.6" font-size="33" fill="#fff" textLength="23.5" lengthAdjust="spacingAndGlyphs">.5</text>
<text x="119.9" y="95.6" font-size="11.6" font-weight="bold" fill="#fff" textLength="34" lengthAdjust="spacingAndGlyphs">33084</text>
<text x="158.3" y="95.6" font-size="33" fill="#fff" textLength="23.5" lengthAdjust="spacingAndGlyphs">.5</text>
<polygon points="22.5,74.3 24,75.8 22.5,77.3 21,75.8" fill="none" stroke="#f0e040" stroke-width=".7"/>
<defs>
<pattern id="chk" width="2" height="2" patternUnits="userSpaceOnUse"><rect width="2" height="2" fill="#fdfdfd"/><rect width="1" height="1" fill="#f0f0f0"/><rect x="1" y="1" width="1" height="1" fill="#f0f0f0"/></pattern>
<linearGradient id="gold" x1="0" y1="0" x2="1" y2="1"><stop offset="0" stop-color="#ffe98a"/><stop offset=".6" stop-color="#e0a520"/><stop offset="1" stop-color="#a86a08"/></linearGradient>
<linearGradient id="grn" x1="0" y1="0" x2="0" y2="1"><stop offset="0" stop-color="#6be36b"/><stop offset="1" stop-color="#10a010"/></linearGradient>
<radialGradient id="redb" cx=".4" cy=".3" r=".8"><stop offset="0" stop-color="#f0603c"/><stop offset="1" stop-color="#d01c10"/></radialGradient>
<linearGradient id="blu" x1="0" y1="0" x2="0" y2="1"><stop offset="0" stop-color="#5aa2f0"/><stop offset="1" stop-color="#1c5ccc"/></linearGradient>
</defs>
<g shape-rendering="crispEdges">
<rect x="0" y="0" width="1696" height="19" fill="#f0f0f0"/>
<rect x="0" y="19" width="1696" height="1" fill="#f5f5f5"/>
<rect x="0" y="20" width="1696" height="1" fill="#a0a0a0"/>
<rect x="0" y="21" width="1696" height="1" fill="#696969"/>
<rect x="0" y="22" width="1696" height="2" fill="#fff"/>
<!-- active button backgrounds -->
<rect x="338" y="0" width="25" height="18" fill="url(#chk)"/>
<rect x="490" y="0" width="25" height="18" fill="url(#chk)"/>
<rect x="518" y="0" width="25" height="18" fill="url(#chk)"/>
<rect x="678" y="0" width="25" height="18" fill="url(#chk)"/>
<rect x="1124" y="0" width="25" height="18" fill="url(#chk)"/>
<!-- separators -->
<g fill="#a0a0a0">
<rect x="10" y="0" width="1" height="18"/>
<rect x="299" y="0" width="1" height="20"/>
<rect x="337" y="0" width="1" height="18"/>
<rect x="394" y="0" width="1" height="18"/>
<rect x="484" y="0" width="1" height="18"/>
<rect x="489" y="0" width="1" height="18"/>
<rect x="517" y="0" width="1" height="18"/>
<rect x="546" y="0" width="1" height="18"/>
<rect x="667" y="0" width="1" height="20"/>
<rect x="677" y="0" width="1" height="18"/>
<rect x="734" y="0" width="1" height="18"/>
<rect x="973" y="0" width="1" height="20"/>
<rect x="1123" y="0" width="1" height="18"/>
<rect x="1234" y="0" width="1" height="20"/>
</g>
<g fill="#fff">
<rect x="300" y="0" width="1" height="20"/>
<rect x="668" y="0" width="1" height="20"/>
<rect x="974" y="0" width="1" height="20"/>
</g>
<!-- grips -->
<g fill="#b4b4b4">
<path d="M303,1h3v1h-3zM303,3h3v1h-3zM303,5h3v1h-3zM303,7h3v1h-3zM303,9h3v1h-3zM303,11h3v1h-3zM303,13h3v1h-3zM303,15h3v1h-3z"/>
<path d="M671,1h3v1h-3zM671,3h3v1h-3zM671,5h3v1h-3zM671,7h3v1h-3zM671,9h3v1h-3zM671,11h3v1h-3zM671,13h3v1h-3zM671,15h3v1h-3z"/>
<path d="M977,1h3v1h-3zM977,3h3v1h-3zM977,5h3v1h-3zM977,7h3v1h-3zM977,9h3v1h-3zM977,11h3v1h-3zM977,13h3v1h-3zM977,15h3v1h-3z"/>
</g>
</g>
<!-- leftover of icon at far left -->
<polygon points="0,13 2.5,15.5 0,17.5" fill="#d9a020"/>
<!-- New Order icon -->
<path d="M21.5,0.5h7l3.5,3.5v9h-10.5z" fill="#fbfbfb" stroke="#8a8a8a" stroke-width="1"/>
<path d="M23.5,3.5h4M23.5,6.5h6M23.5,9h3" stroke="#9a9a9a" stroke-width="1"/>
<path d="M28.5,6.5h3.6v3.6h3.6v3.6h-3.6v3.6h-3.6v-3.6h-3.6v-3.6h3.6z" fill="url(#grn)" stroke="#0c7c0c" stroke-width=".8"/>
<text class="tb" x="40" y="10.6" textLength="63.6" lengthAdjust="spacing">New Order</text>
<!-- book -->
<path d="M121.3,1.200L131.700,9.500L123.300,15.800L116,9.800Q119.500,6 121.300,1.200z" fill="url(#gold)" stroke="#a86c0a" stroke-width=".8"/>
<path d="M123.300,15.800l8.400,-6.300l.2,1.600l-8.200,6.100z" fill="#8c5606"/>
<!-- computer + cloud -->
<rect x="147" y="0" width="10" height="8" fill="url(#blu)" stroke="#1a50b0" stroke-width=".8"/>
<rect x="149" y="2" width="6" height="1.3" fill="#dfeeff"/>
<rect x="149" y="4.6" width="5" height="1.2" fill="#dfeeff"/>
<path d="M147,15.5a3,3 0 0 1 .4,-6a4,4 0 0 1 7,-1.2a3.3,3.3 0 0 1 5,3.2a2.2,2.2 0 0 1 -1,4z" fill="#e8eef8" stroke="#7f98c8" stroke-width="1"/>
<!-- signal -->
<g fill="none" stroke-linecap="round">
<path d="M180,8v7.500a7.500,7.500 0 0 0 3,-14z" fill="#b8d8b8" stroke="none"/><circle cx="180" cy="8" r="7.2" stroke="#9fb4e4" stroke-width="1.2"/>
<circle cx="180" cy="8" r="4.6" stroke="#6f8cd8" stroke-width="1.3"/>
<path d="M180,8v8a8,8 0 0 0 7.2,-6.5" stroke="#38a838" stroke-width="1.6"/>
</g>
<circle cx="180" cy="8" r="1.8" fill="#2c58c8"/>
<!-- autotrading -->
<path d="M201,6.5l5.5,8.5h4l5,-8.5z" fill="#f8d848" stroke="#d8a820" stroke-width=".8"/>
<path d="M199.5,5.5c1,-3.5 4,-3.5 5,-4.5c1,-1.6 4,-1.6 5,0c1,1 4,1 5.5,4.500c-4,2.500 -11.500,2.500 -15.500,0z" fill="#4c94d8" stroke="#2c6cb0" stroke-width=".6"/>
<circle cx="211.500" cy="12" r="4" fill="#e01c14"/>
<rect x="209.800" y="10.300" width="3.400" height="3.400" fill="#fff"/>
<text class="tb" x="220" y="10.6" textLength="71.2" lengthAdjust="spacing">AutoTrading</text>
<!-- bar chart icon -->
<g stroke="#4a4a4a" stroke-width="1" fill="none" shape-rendering="crispEdges">
<path d="M317.500,3v13M315,13.500h14"/>
<path d="M345.500,3v13M343,13.500h14"/>
<path d="M373.500,3v13M371,13.500h14"/>
<path d="M497.500,3v13M495,13.500h14"/>
<path d="M525.500,3v13M523,13.500h14"/>
</g>
<g fill="#4a4a4a">
<polygon points="315.9,4.5 317.500,2 319.1,4.5"/><polygon points="327.0,11.9 329.500,13.5 327.0,15.1"/>
<polygon points="343.9,4.5 345.500,2 347.1,4.5"/><polygon points="355.0,11.9 357.500,13.5 355.0,15.1"/>
<polygon points="371.9,4.5 373.500,2 375.1,4.5"/><polygon points="383.0,11.9 385.500,13.5 383.0,15.1"/>
<polygon points="495.9,4.5 497.500,2 499.1,4.5"/><polygon points="507.0,11.9 509.500,13.5 507.0,15.1"/>
<polygon points="523.9,4.5 525.500,2 527.1,4.5"/><polygon points="535.0,11.9 537.500,13.5 535.0,15.1"/>
</g>
<path d="M321,10.500h3v-6.500h2.500" stroke="#18a018" stroke-width="1.500" fill="none" shape-rendering="crispEdges"/>
<rect x="349.500" y="2.500" width="4" height="7" fill="#28c828" stroke="#0c800c" stroke-width="1"/>
<path d="M351.500,0v2.500M351.500,9.500v2.500" stroke="#0c800c" stroke-width="1"/>
<path d="M373.500,11c2,-4 4,-6.500 6,-6.500s3.500,2.500 5.500,4.500" stroke="#18a018" stroke-width="1.300" fill="none"/>
<!-- zoom in / out -->
<g>
<path d="M413,10l5.500,5.500" stroke="#d8a820" stroke-width="2.600" stroke-linecap="round"/>
<circle cx="409" cy="6.200" r="5.200" fill="#dcecfc" stroke="#4c8cd8" stroke-width="1.400"/>
<path d="M406,6.200h6M409,3.200v6" stroke="#2c64c0" stroke-width="1.600"/>
<path d="M441,10l5.500,5.500" stroke="#d8a820" stroke-width="2.600" stroke-linecap="round"/>
<circle cx="437" cy="6.200" r="5.200" fill="#dcecfc" stroke="#4c8cd8" stroke-width="1.400"/>
<path d="M434,6.200h6" stroke="#2c64c0" stroke-width="1.600"/>
</g>
<!-- tile -->
<g shape-rendering="crispEdges">
<rect x="459.5" y="0" width="7.5" height="7.500" fill="#3c9c1c"/><rect x="467.5" y="0" width="7.5" height="7.500" fill="#2050c8"/>
<rect x="459.5" y="8.200" width="7.5" height="7.500" fill="#2050c8"/><rect x="467.5" y="8.200" width="7.5" height="7.500" fill="#3c9c1c"/>
<g fill="#eef4ff"><rect x="461" y="2.5" width="4.5" height="3"/><rect x="469" y="2.5" width="4.5" height="3"/><rect x="461" y="10.800" width="4.5" height="3"/><rect x="469" y="10.800" width="4.5" height="3"/></g>
</g>
<!-- autoscroll / shift -->
<polygon points="502,4 506.500,7 502,10.500" fill="#28c828" stroke="#0c800c" stroke-width=".7"/>
<rect x="531" y="2" width="1" height="11" fill="#2060c0" shape-rendering="crispEdges"/>
<path d="M537.500,7.500h-4.500M535,5.500l-2.200,2l2.200,2" stroke="#d03c10" stroke-width="1.100" fill="none"/>
<!-- indicators -->
<path d="M557,0.500h7l3.500,3.500v9h-10.500z" fill="#fbfbfb" stroke="#8a8a8a" stroke-width="1"/>
<path d="M560.500,3c-1.500,0 -1.500,1 -1.500,2.500v4" stroke="#6a6a6a" stroke-width="1" fill="none"/>
<path d="M564.500,6.500h3.600v3.600h3.600v3.600h-3.600v3.600h-3.600v-3.600h-3.600v-3.600h3.600z" fill="url(#grn)" stroke="#0c7c0c" stroke-width=".8"/>
<polygon points="578,7 583.500,7 580.750,10" fill="#000"/>
<!-- clock -->
<circle cx="602" cy="8" r="7.300" fill="#2c70d8" stroke="#1850b0" stroke-width="1"/>
<circle cx="602" cy="8" r="5" fill="#f4f8ff"/>
<path d="M602,4.500v3.800h2.800" stroke="#444" stroke-width="1" fill="none"/>
<polygon points="617,7 622.500,7 619.750,10" fill="#000"/>
<!-- template -->
<rect x="633.500" y="1.500" width="15" height="13" fill="#fcfcfc" stroke="#3c78d0" stroke-width="1"/>
<rect x="633" y="1" width="16" height="2.500" fill="#3c78d0"/>
<path d="M635.500,7.500l3,-1l2.500,.5l3,-1.500l3,-.5" stroke="#b03010" stroke-width="1" fill="none"/>
<path d="M635.500,12.500l3,-1.500l2.500,1l2.500,-2l3.500,1.500" stroke="#18a018" stroke-width="1" fill="none"/>
<polygon points="655.500,7 661,7 658.250,10" fill="#000"/>
<!-- cursor -->
<polygon points="685,1 685,13 688,10.300 690.300,15 692.300,14 690,9.500 693.800,9.300" fill="#484848"/>
<!-- crosshair -->
<path d="M717.500,1v6M717.500,10v6M710,8.500h6M719,8.500h6" stroke="#484848" stroke-width="1" shape-rendering="crispEdges"/>
<!-- line tools -->
<g stroke="#505050" stroke-width="1.200" fill="none">
<path d="M751.500,2v13" shape-rendering="crispEdges"/>
<path d="M774,8.500h12" shape-rendering="crispEdges"/>
<path d="M801.500,15L814,3" stroke="#6c6c6c" stroke-width="1"/>
<path d="M828.500,12L840,2.500M831,15.500L842.500,6" stroke-width="1"/>
<path d="M831,9.500l2,5M834,7l2,5M837,4.500l2,5" stroke-width=".9"/>
</g>
<text x="838.200" y="16.300" font-size="6.500" font-weight="bold" fill="#404040">E</text>
<g stroke="#606060" stroke-width="1" stroke-dasharray="1 1" shape-rendering="crispEdges">
<path d="M857,1.500h13M857,4.500h13M857,8.500h13M857,12.500h9"/>
</g>
<text x="866.600" y="16.300" font-size="6.500" font-weight="bold" fill="#404040">F</text>
<text x="887.300" y="12.500" font-size="12" fill="#5c5c5c" stroke="#5c5c5c" stroke-width=".45">A</text>
<rect x="914.500" y="2.500" width="11" height="12" fill="none" stroke="#606060" stroke-width="1" stroke-dasharray="1 1" shape-rendering="crispEdges"/>
<text x="916.300" y="12.600" font-size="11" font-weight="bold" fill="#5c5c5c">T</text>
<g fill="#484848">
<polygon points="941.500,5 945,1.800 948.500,5 945,6.500"/>
<polygon points="948,12 951.500,10.500 955,12 951.500,15"/>
</g>
<path d="M943.500,8.500l2.500,3l4,-5" stroke="#484848" stroke-width="1.300" fill="none"/>
<polygon points="961.700,7 967.200,7 964.450,10" fill="#000"/>
<!-- timeframes -->
<text class="tf" x="988.300" y="11.900">M1</text>
<text class="tf" x="1016.400" y="11.900">M5</text>
<text class="tf" x="1042.200" y="11.900">M15</text>
<text class="tf" x="1070.300" y="11.900">M30</text>
<text class="tf" x="1101.300" y="11.900">H1</text>
<text class="tf" x="1128.400" y="11.900">H4</text>
<text class="tf" x="1157.200" y="11.900">D1</text>
<text class="tf" x="1185" y="11.900">W1</text>
<text class="tf" x="1211.600" y="11.900">MN</text>
<!-- search -->
<path d="M1648.500,8l-4.500,4.500" stroke="#2a5cd4" stroke-width="2.200" stroke-linecap="round"/>
<circle cx="1652" cy="5" r="3.600" fill="#f4f4f4" stroke="#2a5cd4" stroke-width="1.100"/>
<!-- chat -->
<path d="M1669,10a5,4.500 0 0 1 10,-1.500a5,4.500 0 0 1 -6,5.500l-2.200,2.300l.2,-2.800a5,4.500 0 0 1 -2,-3.500z" fill="#e0e4ec" stroke="#b4b8c4" stroke-width=".8"/>
<circle cx="1682.500" cy="6.200" r="8.400" fill="url(#redb)"/>
<text x="1678.200" y="9.800" font-size="11.500" fill="#fff">1</text>
</file_text>

</svg>
</body></html>
